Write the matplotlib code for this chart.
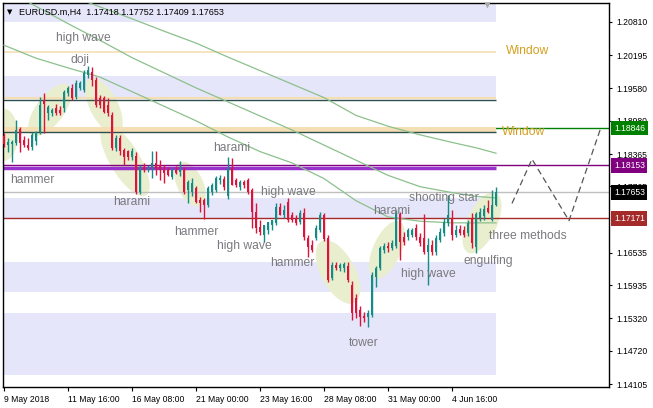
import matplotlib
matplotlib.use('Agg')
import numpy as np
import matplotlib.pyplot as plt
import matplotlib.transforms as mtransforms
from matplotlib.patches import Ellipse

plt.rcParams['font.family'] = ['Liberation Sans', 'DejaVu Sans']

# EURUSD.m H4 bars, index 0 = 9 May 2018 00:00
opens = [1.1870, 1.1853, 1.1855, 1.1857, 1.1883, 1.1862, 1.1853, 1.1849, 1.1861, 1.1877,
         1.1937, 1.1912, 1.1912, 1.1922, 1.1918, 1.1922, 1.1949, 1.1959, 1.1942, 1.1959,
         1.1955, 1.1983, 1.1988, 1.1974, 1.1940, 1.1940, 1.1927, 1.1909, 1.1848, 1.1866,
         1.1844, 1.1842, 1.1831, 1.1833, 1.1766, 1.1812, 1.1807, 1.1812, 1.1820, 1.1816,
         1.1807, 1.1807, 1.1794, 1.1807, 1.1803, 1.1807, 1.1770, 1.1766, 1.1773, 1.1751,
         1.1751, 1.1742, 1.1766, 1.1770, 1.1788, 1.1790, 1.1759, 1.1811, 1.1788, 1.1775,
         1.1785, 1.1788, 1.1770, 1.1729, 1.1701, 1.1686, 1.1696, 1.1705, 1.1709, 1.1738,
         1.1723, 1.1748, 1.1723, 1.1718, 1.1710, 1.1727, 1.1681, 1.1668, 1.1681, 1.1696,
         1.1723, 1.1681, 1.1607, 1.1631, 1.1625, 1.1625, 1.1629, 1.1594, 1.1570, 1.1548,
         1.1536, 1.1535, 1.1538, 1.1609, 1.1625, 1.1659, 1.1666, 1.1662, 1.1666, 1.1725,
         1.1683, 1.1683, 1.1686, 1.1699, 1.1683, 1.1681, 1.1655, 1.1668, 1.1655, 1.1677,
         1.1690, 1.1709, 1.1718, 1.1686, 1.1698, 1.1696, 1.1690, 1.1718, 1.1664, 1.1718,
         1.1722, 1.1736, 1.1714, 1.17418]
highs = [1.1875, 1.1866, 1.1862, 1.1899, 1.1886, 1.1870, 1.1866, 1.1877, 1.1879, 1.1942,
         1.1949, 1.1927, 1.1922, 1.1929, 1.1925, 1.1955, 1.1962, 1.1966, 1.1974, 1.1972,
         1.1992, 1.2000, 1.1998, 1.1979, 1.1946, 1.1944, 1.1940, 1.1914, 1.1872, 1.1872,
         1.1848, 1.1844, 1.1848, 1.1840, 1.1816, 1.1820, 1.1816, 1.1842, 1.1842, 1.1825,
         1.1816, 1.1812, 1.1811, 1.1814, 1.1823, 1.1812, 1.1788, 1.1792, 1.1777, 1.1757,
         1.1755, 1.1777, 1.1783, 1.1796, 1.1798, 1.1796, 1.1831, 1.1829, 1.1792, 1.1788,
         1.1788, 1.1792, 1.1773, 1.1746, 1.1714, 1.1705, 1.1710, 1.1714, 1.1746, 1.1746,
         1.1742, 1.1755, 1.1729, 1.1723, 1.1733, 1.1736, 1.1686, 1.1677, 1.1705, 1.1729,
         1.1727, 1.1686, 1.1636, 1.1636, 1.1635, 1.1636, 1.1636, 1.1601, 1.1577, 1.1555,
         1.1544, 1.1548, 1.1618, 1.1629, 1.1666, 1.1672, 1.1674, 1.1677, 1.1733, 1.1729,
         1.1692, 1.1699, 1.1699, 1.1707, 1.1690, 1.1725, 1.1681, 1.1677, 1.1686, 1.1699,
         1.1718, 1.1761, 1.1733, 1.1705, 1.1705, 1.1703, 1.1714, 1.1727, 1.1729, 1.1736,
         1.1742, 1.1751, 1.1770, 1.17752]
lows = [1.1849, 1.1840, 1.1822, 1.1853, 1.1840, 1.1849, 1.1844, 1.1844, 1.1853, 1.1873,
        1.1875, 1.1899, 1.1907, 1.1909, 1.1909, 1.1914, 1.1944, 1.1937, 1.1938, 1.1955,
        1.1951, 1.1977, 1.1962, 1.1924, 1.1922, 1.1912, 1.1907, 1.1844, 1.1842, 1.1835,
        1.1816, 1.1825, 1.1825, 1.1762, 1.1762, 1.1803, 1.1803, 1.1792, 1.1798, 1.1788,
        1.1783, 1.1796, 1.1790, 1.1799, 1.1796, 1.1762, 1.1746, 1.1759, 1.1746, 1.1729,
        1.1716, 1.1738, 1.1761, 1.1766, 1.1781, 1.1770, 1.1753, 1.1779, 1.1775, 1.1770,
        1.1773, 1.1762, 1.1699, 1.1690, 1.1686, 1.1673, 1.1688, 1.1696, 1.1705, 1.1723,
        1.1718, 1.1710, 1.1710, 1.1705, 1.1707, 1.1677, 1.1646, 1.1655, 1.1677, 1.1692,
        1.1675, 1.1599, 1.1603, 1.1622, 1.1620, 1.1618, 1.1599, 1.1529, 1.1533, 1.1518,
        1.1525, 1.1516, 1.1535, 1.1590, 1.1622, 1.1653, 1.1655, 1.1659, 1.1662, 1.1640,
        1.1668, 1.1677, 1.1683, 1.1677, 1.1666, 1.1651, 1.1594, 1.1649, 1.1649, 1.1674,
        1.1685, 1.1703, 1.1677, 1.1683, 1.1686, 1.1683, 1.1685, 1.1662, 1.1653, 1.1712,
        1.1714, 1.1727, 1.1712, 1.17409]
closes = [1.1855, 1.1859, 1.1859, 1.1881, 1.1857, 1.1853, 1.1848, 1.1872, 1.1877, 1.1927,
          1.1929, 1.1924, 1.1918, 1.1912, 1.1912, 1.1951, 1.1959, 1.1940, 1.1968, 1.1968,
          1.1986, 1.1992, 1.1974, 1.1927, 1.1927, 1.1914, 1.1912, 1.1848, 1.1866, 1.1842,
          1.1831, 1.1831, 1.1842, 1.1766, 1.1812, 1.1807, 1.1811, 1.1820, 1.1811, 1.1807,
          1.1801, 1.1798, 1.1807, 1.1801, 1.1807, 1.1766, 1.1785, 1.1783, 1.1748, 1.1746,
          1.1742, 1.1773, 1.1779, 1.1792, 1.1792, 1.1775, 1.1811, 1.1779, 1.1779, 1.1785,
          1.1779, 1.1766, 1.1729, 1.1699, 1.1692, 1.1705, 1.1710, 1.1714, 1.1738, 1.1723,
          1.1733, 1.1714, 1.1714, 1.1709, 1.1727, 1.1683, 1.1664, 1.1659, 1.1699, 1.1723,
          1.1679, 1.1603, 1.1631, 1.1625, 1.1631, 1.1633, 1.1603, 1.1542, 1.1542, 1.1535,
          1.1533, 1.1542, 1.1612, 1.1625, 1.1662, 1.1666, 1.1662, 1.1672, 1.1727, 1.1674,
          1.1674, 1.1696, 1.1696, 1.1683, 1.1672, 1.1655, 1.1668, 1.1655, 1.1681, 1.1692,
          1.1710, 1.1723, 1.1686, 1.1696, 1.1690, 1.1686, 1.1709, 1.1672, 1.1725, 1.1729,
          1.1735, 1.1729, 1.1742, 1.17653]

# moving averages read at every 8th bar
ma_idx = [0, 8, 16, 24, 32, 40, 48, 56, 64, 72, 80, 88, 96, 104, 112, 118, 123]
ma_slow = [1.2177, 1.2154, 1.2131, 1.2109, 1.2087, 1.2064, 1.2042, 1.2016, 1.1991,
           1.1966, 1.1941, 1.1908, 1.1888, 1.1872, 1.1858, 1.1848, 1.1838]
ma_mid = [1.2142, 1.2110, 1.2078, 1.2047, 1.2015, 1.1987, 1.1959, 1.1933, 1.1907,
          1.1881, 1.1853, 1.1825, 1.1797, 1.1776, 1.1765, 1.1758, 1.1755]
ma_fast = [1.2038, 1.2014, 1.1996, 1.1979, 1.1952, 1.1925, 1.1898, 1.1868, 1.1841,
           1.1820, 1.1791, 1.1750, 1.1720, 1.1712, 1.1709, 1.1709, 1.1709]

# horizontal levels
lavender_bands = [(1.2081, 1.2130), (1.1940, 1.1981), (1.1717, 1.1755),
                  (1.1581, 1.1636), (1.1427, 1.1542)]
window_band = (1.1878, 1.1887)
price_levels = [1.18846, 1.18153, 1.17653, 1.17171]
price_colors = ['#008000', '#800080', '#000000', '#A52A2A']

# projected path
path_idx = [127, 132, 141.25, 149.25]
path_price = [1.1745, 1.1827, 1.1713, 1.1886]

time_ticks = [0, 16, 32, 48, 64, 80, 96, 112]
time_labels = ['9 May 2018', '11 May 16:00', '16 May 08:00', '21 May 00:00',
               '23 May 16:00', '28 May 08:00', '31 May 00:00', '4 Jun 16:00']
price_ticks = [1.20810, 1.20195, 1.19580, 1.18980, 1.18365, 1.17765,
               1.16535, 1.15935, 1.15320, 1.14720, 1.14105]

patterns = ['high wave', 'doji', 'hammer', 'harami', 'harami', 'high wave', 'hammer',
            'high wave', 'hammer', 'tower', 'harami', 'high wave', 'shooting star',
            'engulfing', 'three methods']
pattern_pos = [(19.75, 1.2051), (19, 1.2011), (7, 1.1788), (32, 1.1748), (57, 1.1848),
               (71, 1.1766), (48, 1.1692), (60, 1.1666), (72, 1.1635), (90, 1.1486),
               (97, 1.1731), (106, 1.1614), (110, 1.1755), (121, 1.1638), (131, 1.1685)]

# highlight ellipses: centre (bar, price), width px, height px, angle
ellipses = [(0, 1.1872, 28, 52, 0), (11.5, 1.1918, 62, 28, 53), (25, 1.1925, 62, 28, -63),
            (30.25, 1.1825, 82, 30, -59), (46.5, 1.1781, 48, 26, -64),
            (83.5, 1.1618, 70, 34, -62), (95.75, 1.1659, 62, 28, 66),
            (119.5, 1.1709, 66, 30, 65)]

fig = plt.figure(figsize=(6.53, 4.08), dpi=100)
ax = fig.add_axes([3 / 653, 21 / 408, 606 / 653, 384 / 408])
ax.set_xlim(-0.25, 151.25)
ax.set_ylim(1.140495, 1.211619)

last = len(opens) - 1

for lo, hi in lavender_bands:
    ax.fill_between([-1, last], lo, hi, color='#E6E6FA', lw=0, zorder=1)

for cx, cy, w, h, a in ellipses:
    tr = fig.dpi_scale_trans + mtransforms.ScaledTranslation(cx, cy, ax.transData)
    ax.add_patch(Ellipse((0, 0), w / 100, h / 100, angle=a, transform=tr,
                         facecolor='#E9EFCE', edgecolor='none', zorder=1.5))

ax.axhline(price_levels[0], color='#008000', lw=1, zorder=2)
ax.fill_between([-1, last], window_band[0], window_band[1], color='#F5DEB3', lw=0, zorder=2.2)
ax.hlines(1.20254, -1, last, color='#F5DEB3', lw=1.2, zorder=2.2)
ax.hlines(1.1940, -1, last, color='#F5DEB3', lw=1.5, zorder=2.2)
ax.hlines([1.19365, 1.1877], -1, last, color='#2F4F4F', lw=1, zorder=2.3)
ax.hlines(1.1811, -1, last, color='#9932CC', lw=2.5, zorder=2.3)
for lvl, c in zip(price_levels[1:], price_colors[1:]):
    ax.axhline(lvl, color=c if c != '#000000' else '#C0C0C0', lw=1, zorder=2.3)

for ma in (ma_slow, ma_mid, ma_fast):
    ax.plot(ma_idx, ma, color='#8CC08C', lw=0.9, zorder=3)

ax.plot(path_idx, path_price, color='#555555', lw=0.9, ls=(0, (5, 3)), zorder=3)

o = np.array(opens)
c = np.array(closes)
x = np.arange(len(o))
cols = np.where(c >= o, '#128C84', '#DC143C')
ax.vlines(x, lows, highs, colors=cols, lw=1, zorder=4)
ax.bar(x, np.maximum(np.abs(c - o), 0.00016), bottom=np.minimum(o, c), width=0.7,
       color=cols, lw=0, zorder=4.5)

for txt, (px, py) in zip(patterns, pattern_pos):
    ax.text(px, py, txt, ha='center', va='center', fontsize=8.7, color='#7A7A80', zorder=6)
ax.text(131, 1.2027, 'Window', ha='center', va='center', fontsize=8.7, color='#D4A020', zorder=6)
ax.text(130, 1.1877, 'Window', ha='center', va='center', fontsize=8.7, color='#D4A020', zorder=6)

ax.plot(120.75, 1.2112, marker='v', ms=5, color='#A9A9A9', mec='none', clip_on=False, zorder=6)

# axes
ax.yaxis.tick_right()
ax.set_yticks(price_ticks)
ax.set_yticklabels(['%.5f' % v for v in price_ticks])
ax.tick_params(axis='y', direction='out', length=2.2, width=0.8, pad=3, labelsize=6.2)
ax.set_xticks(time_ticks)
ax.set_xticklabels(time_labels, ha='left')
ax.tick_params(axis='x', direction='out', length=3, width=0.8, pad=2.5, labelsize=6.2)
for s in ax.spines.values():
    s.set_color('black')
    s.set_linewidth(1)

for lvl, col in zip(price_levels, price_colors):
    ax.annotate('%.5f' % lvl, xy=(1, lvl), xycoords=('axes fraction', 'data'),
                xytext=(3.6, 0), textcoords='offset points', ha='left', va='center',
                fontsize=6.2, color='white', annotation_clip=False, zorder=10,
                bbox=dict(boxstyle='square,pad=0.3', fc=col, ec='none'))

fig.text(7 / 653, 1 - 12 / 408, '\u25bc', fontsize=5, va='center', ha='left',
         family=['DejaVu Sans'])
fig.text(19 / 653, 1 - 12 / 408, 'EURUSD.m,H4  1.17418 1.17752 1.17409 1.17653',
         fontsize=6.5, va='center', ha='left')

fig.savefig('out.png', dpi=100)
